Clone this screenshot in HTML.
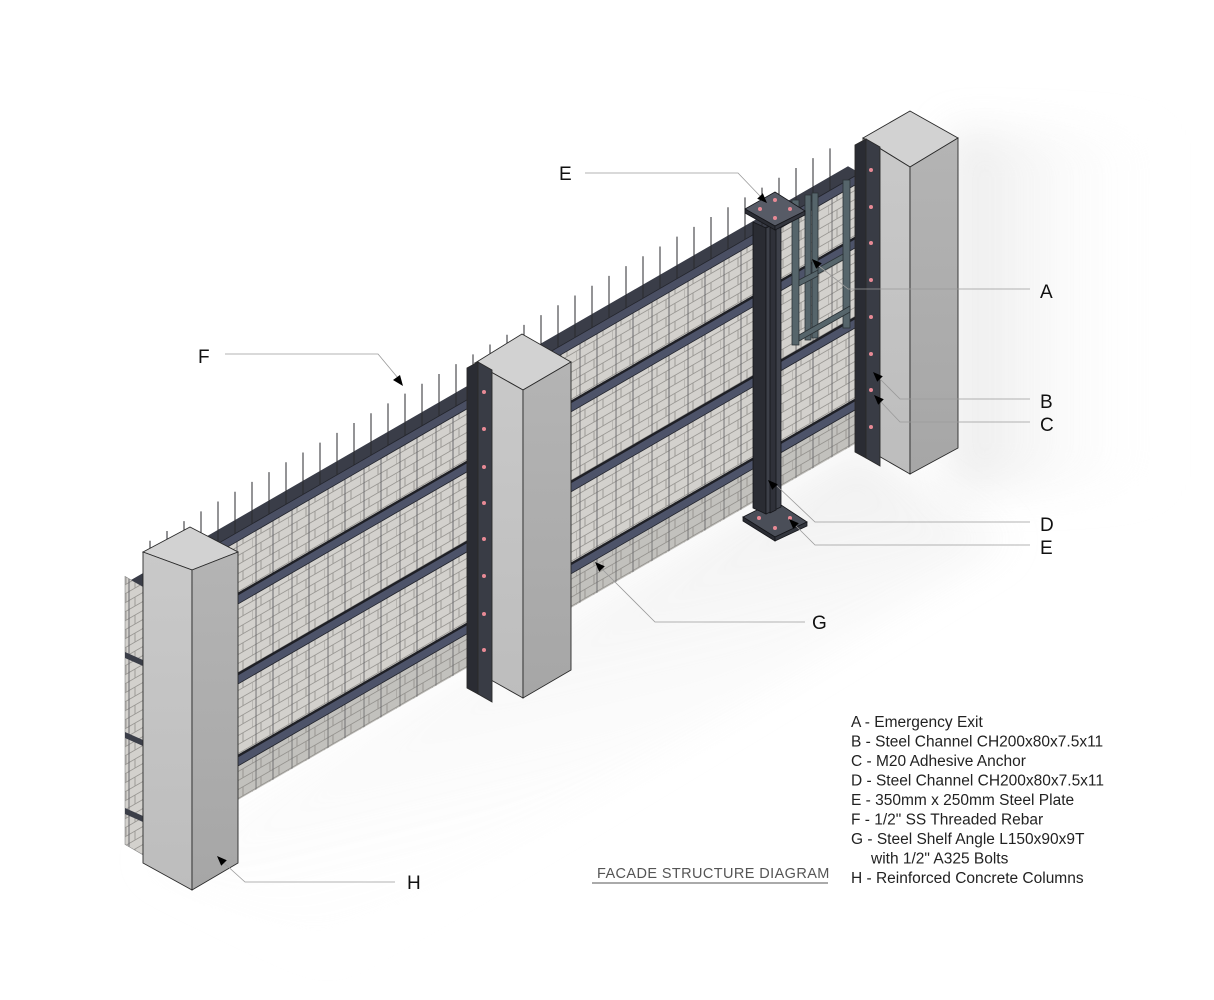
<!DOCTYPE html>
<html><head><meta charset="utf-8">
<style>
html,body{margin:0;padding:0;background:#fff;}
svg{display:block;}
text{font-family:"Liberation Sans",sans-serif;}
</style></head>
<body>
<svg width="1214" height="1000" viewBox="0 0 1214 1000" xmlns="http://www.w3.org/2000/svg">
<defs>
  <pattern id="brick" width="36" height="18" patternUnits="userSpaceOnUse" patternTransform="skewY(-30)">
    <rect width="36" height="18" fill="#d3d1cd"/>
    <path d="M0 0H36M0 9H36M0 18H36M0 0V9M18 0V9M9 9V18M27 9V18" stroke="#9a9894" stroke-width="0.9" fill="none"/>
    <path d="M4 0V18M21 0V18" stroke="#5a5a5e" stroke-width="0.8"/>
  </pattern>
  <linearGradient id="colL" x1="0" y1="0" x2="0" y2="1">
    <stop offset="0" stop-color="#c9c9c9"/><stop offset="1" stop-color="#bdbdbd"/>
  </linearGradient>
  <linearGradient id="colR" x1="0" y1="0" x2="0" y2="1">
    <stop offset="0" stop-color="#b4b4b4"/><stop offset="1" stop-color="#a6a6a6"/>
  </linearGradient>
  <linearGradient id="floor" x1="0" y1="0" x2="0.4" y2="1">
    <stop offset="0" stop-color="#d8d8d8"/><stop offset="1" stop-color="#ffffff" stop-opacity="0"/>
  </linearGradient>
  <linearGradient id="haze" x1="0" y1="0" x2="1" y2="0">
    <stop offset="0" stop-color="#e2e2e2"/><stop offset="1" stop-color="#ffffff" stop-opacity="0"/>
  </linearGradient>
  <filter id="blur" x="-30%" y="-30%" width="160%" height="160%"><feGaussianBlur stdDeviation="20"/></filter>
</defs>

<rect x="950" y="130" width="220" height="360" fill="url(#haze)" filter="url(#blur)" opacity="0.7"/>
<polygon points="143,860 860,446 1010,540 330,960" fill="url(#floor)" filter="url(#blur)" opacity="0.8"/>

<polygon points="125,576.4 143,586.8 143,854.8 125,844.4" fill="url(#brick)" stroke="#888" stroke-width="0.6"/>
<polygon points="143,586.8 860,173.1 860,441.1 143,854.8" fill="url(#brick)"/>
<polygon points="143,820.8 860,407.1 860,441.1 143,854.8" fill="#8a8884" opacity="0.22"/>
<polygon points="131,580 143,586.8 860,173.1 848,166.3" fill="#3a3d48"/>

<g stroke="#22242b" stroke-width="0.8">
  <polygon points="143,586.8 860,173.1 860,182.1 143,595.8" fill="#4a4f63"/>
  <polygon points="143,648.8 860,235.1 860,245.1 143,658.8" fill="#4d5369"/>
  <polygon points="143,728.8 860,315.1 860,325.1 143,738.8" fill="#4d5369"/>
  <polygon points="143,810.8 860,397.1 860,407.1 143,820.8" fill="#4d5369"/>
</g>
<g stroke="#1f2026" stroke-width="2.4" fill="none">
  <path d="M143 648.8 L860 235.1M143 728.8 L860 315.1M143 810.8 L860 397.1"/>
</g>
<g fill="#3b3e48">
  <polygon points="125,652 143,660 143,666 125,658"/>
  <polygon points="125,732 143,740 143,746 125,738"/>
  <polygon points="125,808 143,816 143,822 125,814"/>
</g>

<path d="M150 582.75v-42m17 32.19v-42m17 32.19v-42m17 32.19v-42m17 32.19v-42m17 32.19v-42m17 32.19v-42m17 32.19v-42m17 32.19v-42m17 32.19v-42m17 32.19v-42m17 32.19v-42m17 32.19v-42m17 32.19v-42m17 32.19v-42m17 32.19v-42m17 32.19v-42m17 32.19v-42m17 32.19v-42m17 32.19v-42m17 32.19v-42m17 32.19v-42m17 32.19v-42m17 32.19v-42m17 32.19v-42m17 32.19v-42m17 32.19v-42m17 32.19v-42m17 32.19v-42m17 32.19v-42m17 32.19v-42m17 32.19v-42m17 32.19v-42m17 32.19v-42m17 32.19v-42m17 32.19v-42m17 32.19v-42m17 32.19v-42m17 32.19v-42m17 32.19v-42m17 32.19v-42" stroke="#2a2a2e" stroke-width="1" fill="none"/>

<g fill="#56656b" stroke="#2b3236" stroke-width="0.8">
  <rect x="792" y="200" width="7" height="145"/>
  <rect x="805" y="195" width="6" height="145"/>
  <rect x="812" y="193" width="6" height="145"/>
  <rect x="843" y="180" width="7" height="148"/>
  <polygon points="799,280 818,270 818,276 799,286"/>
  <polygon points="818,268 843,254 843,260 818,274"/>
  <polygon points="799,335 850,306 850,312 799,341"/>
</g>

<g stroke="#15161a" stroke-width="0.8">
  <polygon points="743,517 775,501 807,522 775,537" fill="#4a4e58"/>
  <polygon points="743,517 775,537 775,541 743,521" fill="#2a2c33"/>
  <polygon points="775,537 807,522 807,526 775,541" fill="#33363e"/>
  <polygon points="753,222 766,228 766,514 753,508" fill="#2a2c33"/>
  <polygon points="766,228 781,221 781,507 766,514" fill="#3d4049"/>
  <polygon points="770,228 776,225 776,510 770,513" fill="#2f3139"/>
  <polygon points="745,209 775,192 805,211 775,226" fill="#575b66"/>
  <polygon points="745,209 775,226 775,230 745,213" fill="#2a2c33"/>
  <polygon points="775,226 805,211 805,215 775,230" fill="#33363e"/>
</g>
<g fill="#e88a95">
  <circle cx="775" cy="200" r="2"/><circle cx="760" cy="209" r="2"/><circle cx="790" cy="209" r="2"/><circle cx="775" cy="218" r="2"/>
  <circle cx="759" cy="518" r="2"/><circle cx="790" cy="518" r="2"/><circle cx="775" cy="528" r="2"/>
</g>

<g stroke="#2a2a2a" stroke-width="0.9">
  <polygon points="143,552 190,527 238,552 192,570" fill="#d2d2d2"/>
  <polygon points="143,552 192,570 192,890 143,863" fill="url(#colL)"/>
  <polygon points="192,570 238,552 238,863 192,890" fill="url(#colR)"/>

  <polygon points="475,363 522,334 571,362 523,390" fill="#d2d2d2"/>
  <polygon points="475,363 523,390 523,698 475,671" fill="url(#colL)"/>
  <polygon points="523,390 571,362 571,670 523,698" fill="url(#colR)"/>
  <polygon points="467,368 478,362 478,694 467,688" fill="#2a2c33"/>
  <polygon points="478,362 492,370 492,702 478,694" fill="#393c45"/>

  <polygon points="863,138 910,111 958,138 910,167" fill="#d2d2d2"/>
  <polygon points="863,138 910,167 910,474 863,447" fill="url(#colL)"/>
  <polygon points="910,167 958,138 958,448 910,474" fill="url(#colR)"/>
  <polygon points="855,145 866,139 866,458 855,452" fill="#2a2c33"/>
  <polygon points="866,139 880,147 880,466 866,458" fill="#393c45"/>
</g>
<g fill="#e88a95">
  <circle cx="484" cy="392" r="2"/><circle cx="484" cy="429" r="2"/><circle cx="484" cy="467" r="2"/><circle cx="484" cy="503" r="2"/>
  <circle cx="484" cy="539" r="2"/><circle cx="484" cy="576" r="2"/><circle cx="484" cy="614" r="2"/><circle cx="484" cy="650" r="2"/>
  <circle cx="871" cy="170" r="2"/><circle cx="871" cy="207" r="2"/><circle cx="871" cy="243" r="2"/><circle cx="871" cy="280" r="2"/>
  <circle cx="871" cy="317" r="2"/><circle cx="871" cy="354" r="2"/><circle cx="871" cy="390" r="2"/><circle cx="871" cy="427" r="2"/>
</g>

<g stroke="#9a9a9a" stroke-width="0.8" fill="none">
  <path d="M585 173H738L760 196"/>
  <path d="M1030 289H848L819 266"/>
  <path d="M1030 399H900L880 379"/>
  <path d="M1030 422H900L881 402"/>
  <path d="M1030 522H815L777 486"/>
  <path d="M1030 545H815L796 526"/>
  <path d="M225 354H378L398 378"/>
  <path d="M805 622H655L602 569"/>
  <path d="M395 882H245L224 863"/>
</g>
<g fill="#000">
  <polygon points="767,203 757.2,198.8 762.8,193.2"/>
  <polygon points="812,259 821.8,263.2 816.2,268.8"/>
  <polygon points="873,372 882.8,376.2 877.2,381.8"/>
  <polygon points="874,395 883.8,399.2 878.2,404.8"/>
  <polygon points="768,480 777.8,484.2 772.2,489.8"/>
  <polygon points="789,519 798.8,523.2 793.2,528.8"/>
  <polygon points="403,386 393,380 400,375"/>
  <polygon points="595,562 604.8,566.2 599.2,571.8"/>
  <polygon points="217,856 226.8,860.2 221.2,865.8"/>
</g>

<g font-size="19" fill="#111">
  <text x="559" y="180">E</text>
  <text x="1040" y="298">A</text>
  <text x="1040" y="408">B</text>
  <text x="1040" y="431">C</text>
  <text x="1040" y="531">D</text>
  <text x="1040" y="554">E</text>
  <text x="198" y="363">F</text>
  <text x="812" y="629">G</text>
  <text x="407" y="889">H</text>
</g>

<g font-size="15.5" fill="#222">
  <text x="851" y="727">A - Emergency Exit</text>
  <text x="851" y="746.5">B - Steel Channel CH200x80x7.5x11</text>
  <text x="851" y="766">C - M20 Adhesive Anchor</text>
  <text x="851" y="785.5">D - Steel Channel CH200x80x7.5x11</text>
  <text x="851" y="805">E - 350mm x 250mm Steel Plate</text>
  <text x="851" y="824.5">F - 1/2" SS Threaded Rebar</text>
  <text x="851" y="844">G - Steel Shelf Angle L150x90x9T</text>
  <text x="871" y="863.5">with 1/2" A325 Bolts</text>
  <text x="851" y="883">H - Reinforced Concrete Columns</text>
</g>
<text x="597" y="878" font-size="14.5" fill="#555" letter-spacing="0.4">FACADE STRUCTURE DIAGRAM</text>
<line x1="592" y1="883" x2="828" y2="883" stroke="#777" stroke-width="1.2"/>
</svg>
</body></html>
